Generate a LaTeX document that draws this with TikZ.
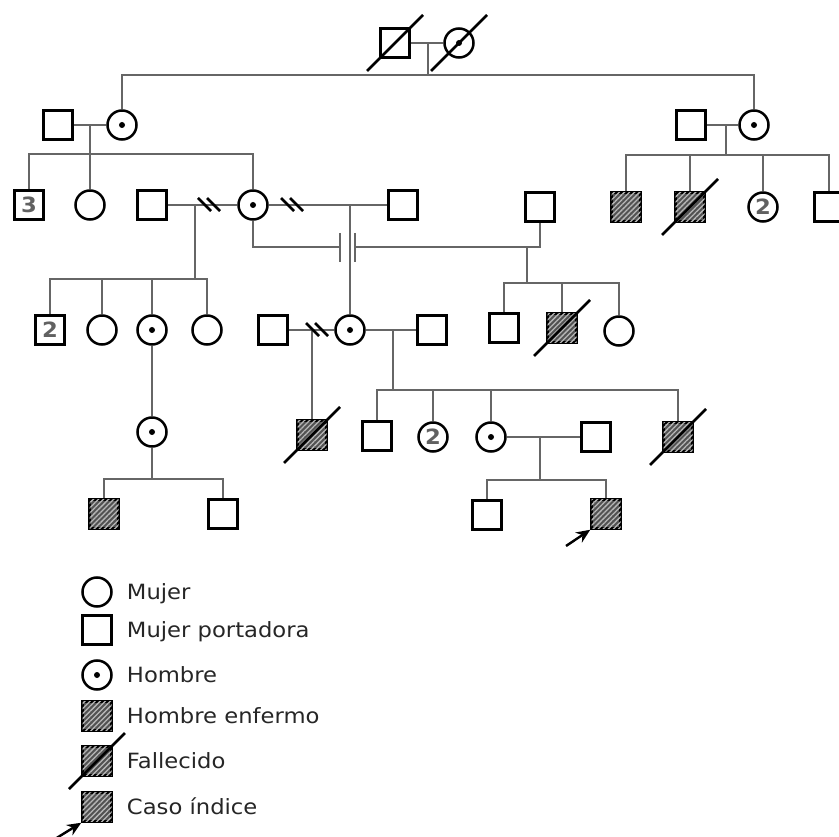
\documentclass[tikz,border=0pt]{standalone}
\usepackage{fontspec}
\setmainfont{DejaVu Sans}[FakeStretch=1.08]
\usepackage{tikz}
\usetikzlibrary{positioning, calc, arrows.meta, patterns.meta}

\begin{document}
\begin{tikzpicture}[
  x=1pt, y=-1pt,
  male/.style={rectangle, draw=black, line width=2.5pt, minimum size=29pt, inner sep=0pt, fill=white},
  female/.style={circle, draw=black, line width=2.5pt, minimum size=29pt, inner sep=0pt, fill=white},
  carrier/.style={female, path picture={\fill[black] (path picture bounding box.center) circle (3pt);}},
  affected/.style={male, fill=black!68, postaction={pattern={Lines[angle=45, distance=3.6pt, line width=1.3pt]}, pattern color=black!28}},
  count/.style={font=\fontsize{21}{21}\selectfont\bfseries, text=black!62},
  line/.style={draw=black!60, line width=2.1pt},
  slash/.style={draw=black, line width=2.5pt},
  hash/.style={draw=black, line width=2.6pt},
  pointer/.style={-{Stealth[length=14pt, width=12pt]}, draw=black, line width=2.4pt},
  legtext/.style={font=\fontsize{21}{21}\selectfont, text=black!85, inner sep=0pt, text height=15pt, text depth=0pt}
]
  \useasboundingbox (0,0) rectangle (839,837);

  % generation I
  \node[male] (I1) at (395,43) {};
  \node[carrier] (I2) at (459,43) {};
  \coordinate (mI) at (428,43);
  \coordinate (sI) at (428,75);

  % generation II
  \node[male] (II1) at (58,125) {};
  \node[carrier] (II2) at (122,125) {};
  \node[male] (II3) at (691,125) {};
  \node[carrier] (II4) at (754,125) {};
  \coordinate (mII1) at (90,125);
  \coordinate (sII1) at (90,154);
  \coordinate (mII2) at (726,125);
  \coordinate (sII2) at (726,155);

  % generation III
  \node[male, count] (III1) at (29,205) {3};
  \node[female] (III2) at (90,205) {};
  \node[male] (III3) at (152,205) {};
  \node[carrier] (III4) at (253,205) {};
  \node[male] (III5) at (403,205) {};
  \node[male] (III6) at (540,207) {};
  \node[affected] (III7) at (626,207) {};
  \node[affected] (III8) at (690,207) {};
  \node[female, count] (III9) at (763,207) {2};
  \node[male] (III10) at (829,207) {};
  \coordinate (h1) at (210,205);
  \coordinate (h2) at (293,205);
  \coordinate (mIII1) at (195,205);
  \coordinate (sIII1) at (195,279);
  \coordinate (mIII2) at (350,205);
  \coordinate (bL) at (340,247);
  \coordinate (bR) at (355,247);
  \coordinate (jIII3) at (527,247);
  \coordinate (sIII3) at (527,283);

  % generation IV
  \node[male, count] (IV1) at (50,330) {2};
  \node[female] (IV2) at (102,330) {};
  \node[carrier] (IV3) at (152,330) {};
  \node[female] (IV4) at (207,330) {};
  \node[male] (IV5) at (273,330) {};
  \node[carrier] (IV6) at (350,330) {};
  \node[male] (IV7) at (432,330) {};
  \node[male] (IV8) at (504,328) {};
  \node[affected] (IV9) at (562,328) {};
  \node[female] (IV10) at (619,331) {};
  \coordinate (h3) at (318,330);
  \coordinate (mIV1) at (312,330);
  \coordinate (mIV2) at (393,330);
  \coordinate (sIV2) at (393,390);

  % generation V
  \node[carrier] (V1) at (152,432) {};
  \node[affected] (V2) at (312,435) {};
  \node[male] (V3) at (377,436) {};
  \node[female, count] (V4) at (433,437) {2};
  \node[carrier] (V5) at (491,437) {};
  \node[male] (V6) at (596,437) {};
  \node[affected] (V7) at (678,437) {};
  \coordinate (sV1) at (152,479);
  \coordinate (mV) at (540,437);
  \coordinate (sV2) at (540,480);

  % generation VI
  \node[affected] (VI1) at (104,514) {};
  \node[male] (VI2) at (223,514) {};
  \node[male] (VI3) at (487,515) {};
  \node[affected] (VI4) at (606,514) {};
  \coordinate (pa) at (566,546);

  % couples and sibships
  \draw[line] (I1) -- (I2);
  \draw[line] (mI) -- (sI);
  \draw[line] (II2) |- (sI) -| (II4);

  \draw[line] (II1) -- (II2);
  \draw[line] (mII1) -- (III2);
  \draw[line] (III1) |- (sII1) -| (III4);
  \draw[line] (II3) -- (II4);
  \draw[line] (mII2) -- (sII2);
  \draw[line] (III7) |- (sII2) -| (III10);
  \draw[line] (III8) -- (III8 |- sII2);
  \draw[line] (III9) -- (III9 |- sII2);

  \draw[line] (III3) -- (III4);
  \draw[line] (mIII1) -- (sIII1);
  \draw[line] (IV1) |- (sIII1) -| (IV4);
  \draw[line] (IV2) -- (IV2 |- sIII1);
  \draw[line] (IV3) -- (IV3 |- sIII1);
  \draw[line] (III4) -- (III5);
  \draw[line] (mIII2) -- (IV6);
  \draw[line] (III4) |- (bL);
  \draw[line] (bR) -| (III6);
  \draw[line] ($(bL)+(0,-14)$) -- ($(bL)+(0,15)$);
  \draw[line] ($(bR)+(0,-14)$) -- ($(bR)+(0,15)$);
  \draw[line] (jIII3) -- (sIII3);
  \draw[line] (IV8) |- (sIII3) -| (IV10);
  \draw[line] (IV9) -- (IV9 |- sIII3);

  \draw[line] (IV3) -- (V1);
  \draw[line] (IV5) -- (IV6);
  \draw[line] (mIV1) -- (V2);
  \draw[line] (IV6) -- (IV7);
  \draw[line] (mIV2) -- (sIV2);
  \draw[line] (V3) |- (sIV2) -| (V7);
  \draw[line] (V4) -- (V4 |- sIV2);
  \draw[line] (V5) -- (V5 |- sIV2);

  \draw[line] (V1) -- (sV1);
  \draw[line] (VI1) |- (sV1) -| (VI2);
  \draw[line] (V5) -- (V6);
  \draw[line] (mV) -- (sV2);
  \draw[line] (VI3) |- (sV2) -| (VI4);
  \draw[pointer] (pa) -- (VI4.south west);

  % legend
  \node[female] (L1) at (97,592) {};
  \node[male] (L2) at (97,630) {};
  \node[carrier] (L3) at (97,675) {};
  \node[affected] (L4) at (97,716) {};
  \node[affected] (L5) at (97,761) {};
  \node[affected] (L6) at (97,807) {};
  \node[legtext, right=14pt of L1] (T1) {Mujer};
  \node[legtext, right=14pt of L2] (T2) {Mujer portadora};
  \node[legtext, right=14pt of L3] (T3) {Hombre};
  \node[legtext, right=14pt of L4] (T4) {Hombre enfermo};
  \node[legtext, right=14pt of L5] (T5) {Fallecido};
  \node[legtext, right=14pt of L6] (T6) {Caso índice};
  \coordinate (lpa) at (55,839);
  \draw[pointer] (lpa) -- (L6.south west);

  % deceased and separations
  \foreach \n in {I1, I2, III8, IV9, V2, V7, L5}
    \draw[slash] ($(\n)+(-28,28)$) -- ($(\n)+(28,-28)$);
  \foreach \h in {h1, h2, h3} {
    \draw[hash] ($(\h)+(-12,-7)$) -- ($(\h)+(1,6)$);
    \draw[hash] ($(\h)+(-3,-7)$) -- ($(\h)+(10,6)$);
  }
\end{tikzpicture}
\end{document}
